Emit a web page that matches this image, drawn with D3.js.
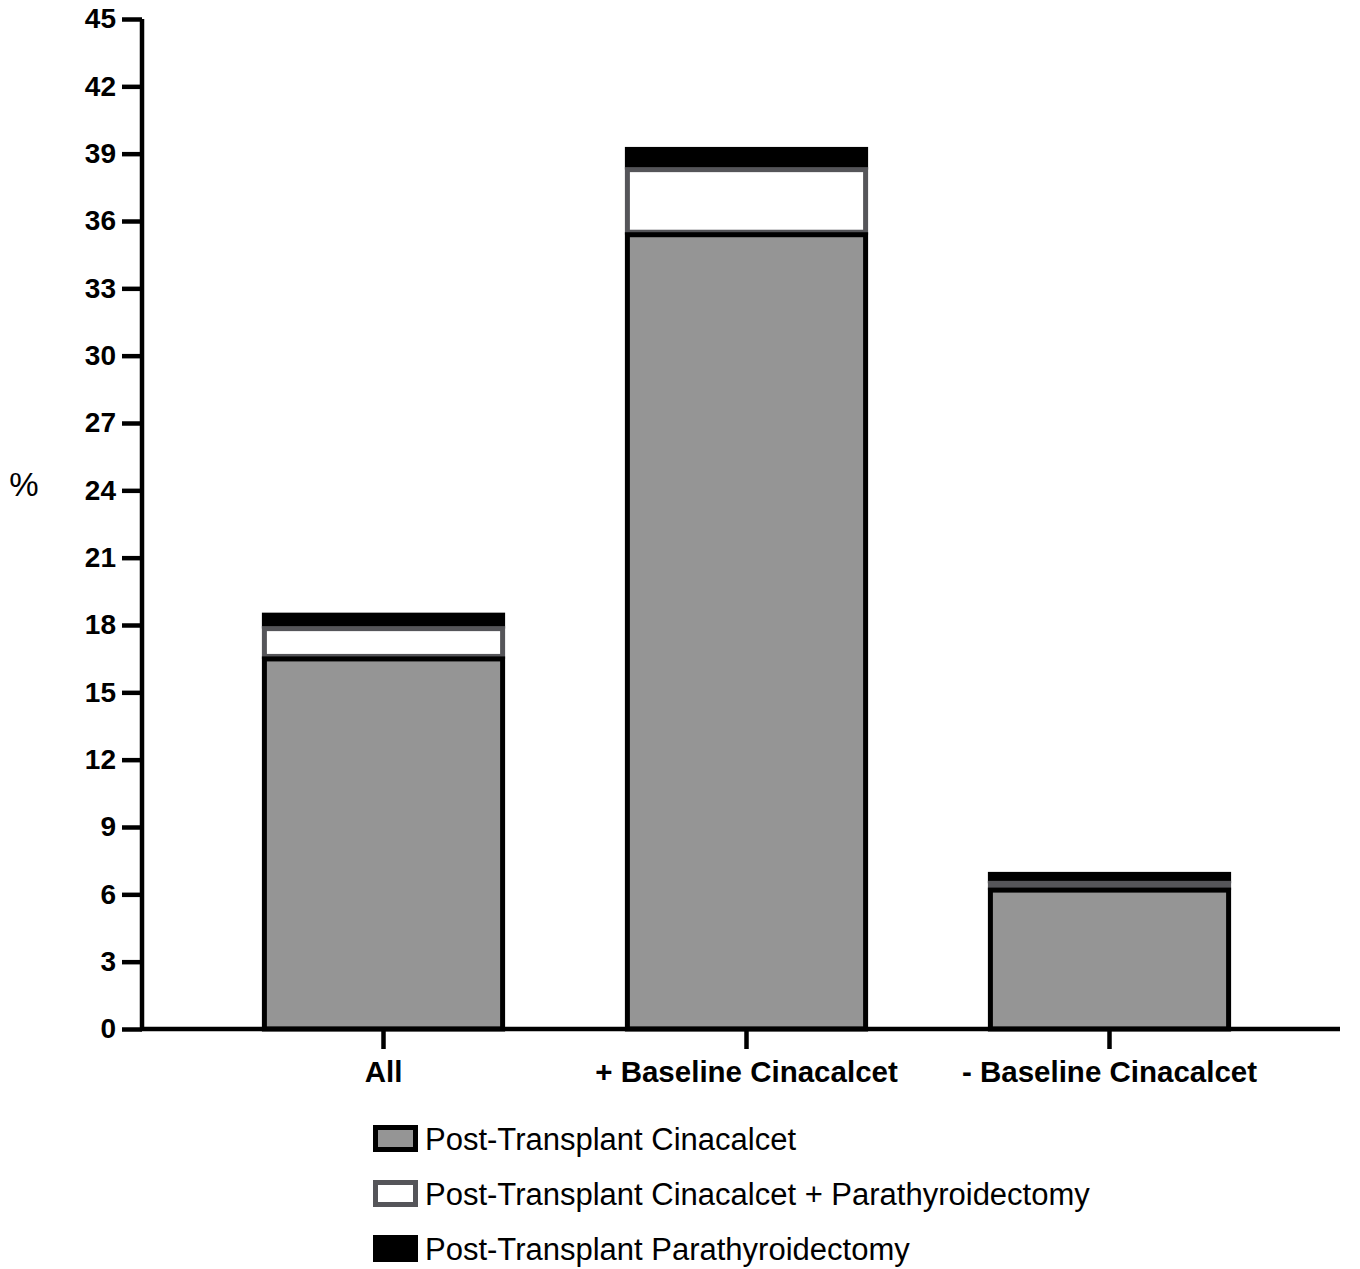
<!DOCTYPE html>
<meta charset="utf-8">
<style>
body { margin: 0; background: #fff; }
text { font-family: "Liberation Sans", Arial, sans-serif; }
.axis text { font-size: 28px; font-weight: bold; fill: #000; }
.xaxis text { font-size: 29.5px; }
.axis path, .axis line { stroke: #000; stroke-width: 4.5; }
.legend text { font-size: 31px; fill: #000; }
</style>
<body>
<svg width="1360" height="1269"></svg>
</body>
<script src="https://cdn.jsdelivr.net/npm/d3@7"></script>
<script>

var groups = ["All", "+ Baseline Cinacalcet", "- Baseline Cinacalcet"];
var cinacalcet = [16.6, 35.5, 6.3];
var cinaPtx = [1.35, 2.9, 0.3];
var ptx = [0.6, 0.9, 0.4];

var seriesNames = ["Post-Transplant Cinacalcet", "Post-Transplant Cinacalcet + Parathyroidectomy", "Post-Transplant Parathyroidectomy"];
var fills = ["#959595", "#ffffff", "#000000"];
var strokes = ["#000000", "#555559", "#000000"];

var yTicks = d3.range(0, 46, 3);

var svg = d3.select("svg");

var x = d3.scaleBand()
    .domain(groups)
    .range([202, 1291])
    .paddingInner(0.33)
    .paddingOuter(0.165);

var y = d3.scaleLinear()
    .domain([0, 45])
    .range([1029, 19]);

// stack the three series
var rows = groups.map(function(g, i) {
  return { group: g, s0: cinacalcet[i], s1: cinaPtx[i], s2: ptx[i] };
});
var stack = d3.stack().keys(["s0", "s1", "s2"])(rows);

// draw top segment first so lower outlines lie on top
var sw = 5;
[2, 1, 0].forEach(function(k) {
  svg.append("g")
    .selectAll("rect")
    .data(stack[k])
    .enter().append("rect")
      .attr("x", function(d) { return x(d.data.group) + sw / 2; })
      .attr("width", x.bandwidth() - sw)
      .attr("y", function(d) { return y(d[1]) + sw / 2; })
      .attr("height", function(d) { return Math.max(0, y(d[0]) - y(d[1]) - sw / 2); })
      .attr("fill", fills[k])
      .attr("stroke", strokes[k])
      .attr("stroke-width", sw);
});

// y axis
var yAxis = svg.append("g")
    .attr("class", "axis")
    .attr("transform", "translate(142,0)")
    .call(d3.axisLeft(y).tickValues(yTicks).tickSize(20).tickPadding(6).tickSizeOuter(0));
yAxis.select(".domain").attr("d", "M0," + y(45) + "V" + y(0));

// x axis
var xAxis = svg.append("g")
    .attr("class", "axis xaxis")
    .attr("transform", "translate(0," + y(0) + ")")
    .call(d3.axisBottom(x).tickSize(20).tickPadding(12).tickSizeOuter(0));
xAxis.select(".domain").attr("d", "M140,0H1340");

svg.append("text")
    .attr("x", 24)
    .attr("y", 496)
    .attr("text-anchor", "middle")
    .style("font-size", "33px")
    .text("%");

// legend
var legend = svg.append("g")
    .attr("class", "legend")
    .selectAll("g")
    .data(seriesNames)
    .enter().append("g")
      .attr("transform", function(d, i) { return "translate(373," + (1125 + i * 55) + ")"; });

legend.append("rect")
    .attr("x", 2.5)
    .attr("y", 2.5)
    .attr("width", 40)
    .attr("height", 22)
    .attr("fill", function(d, i) { return fills[i]; })
    .attr("stroke", function(d, i) { return strokes[i]; })
    .attr("stroke-width", 5);

legend.append("text")
    .attr("x", 52)
    .attr("y", 25)
    .text(function(d) { return d; });

</script>
